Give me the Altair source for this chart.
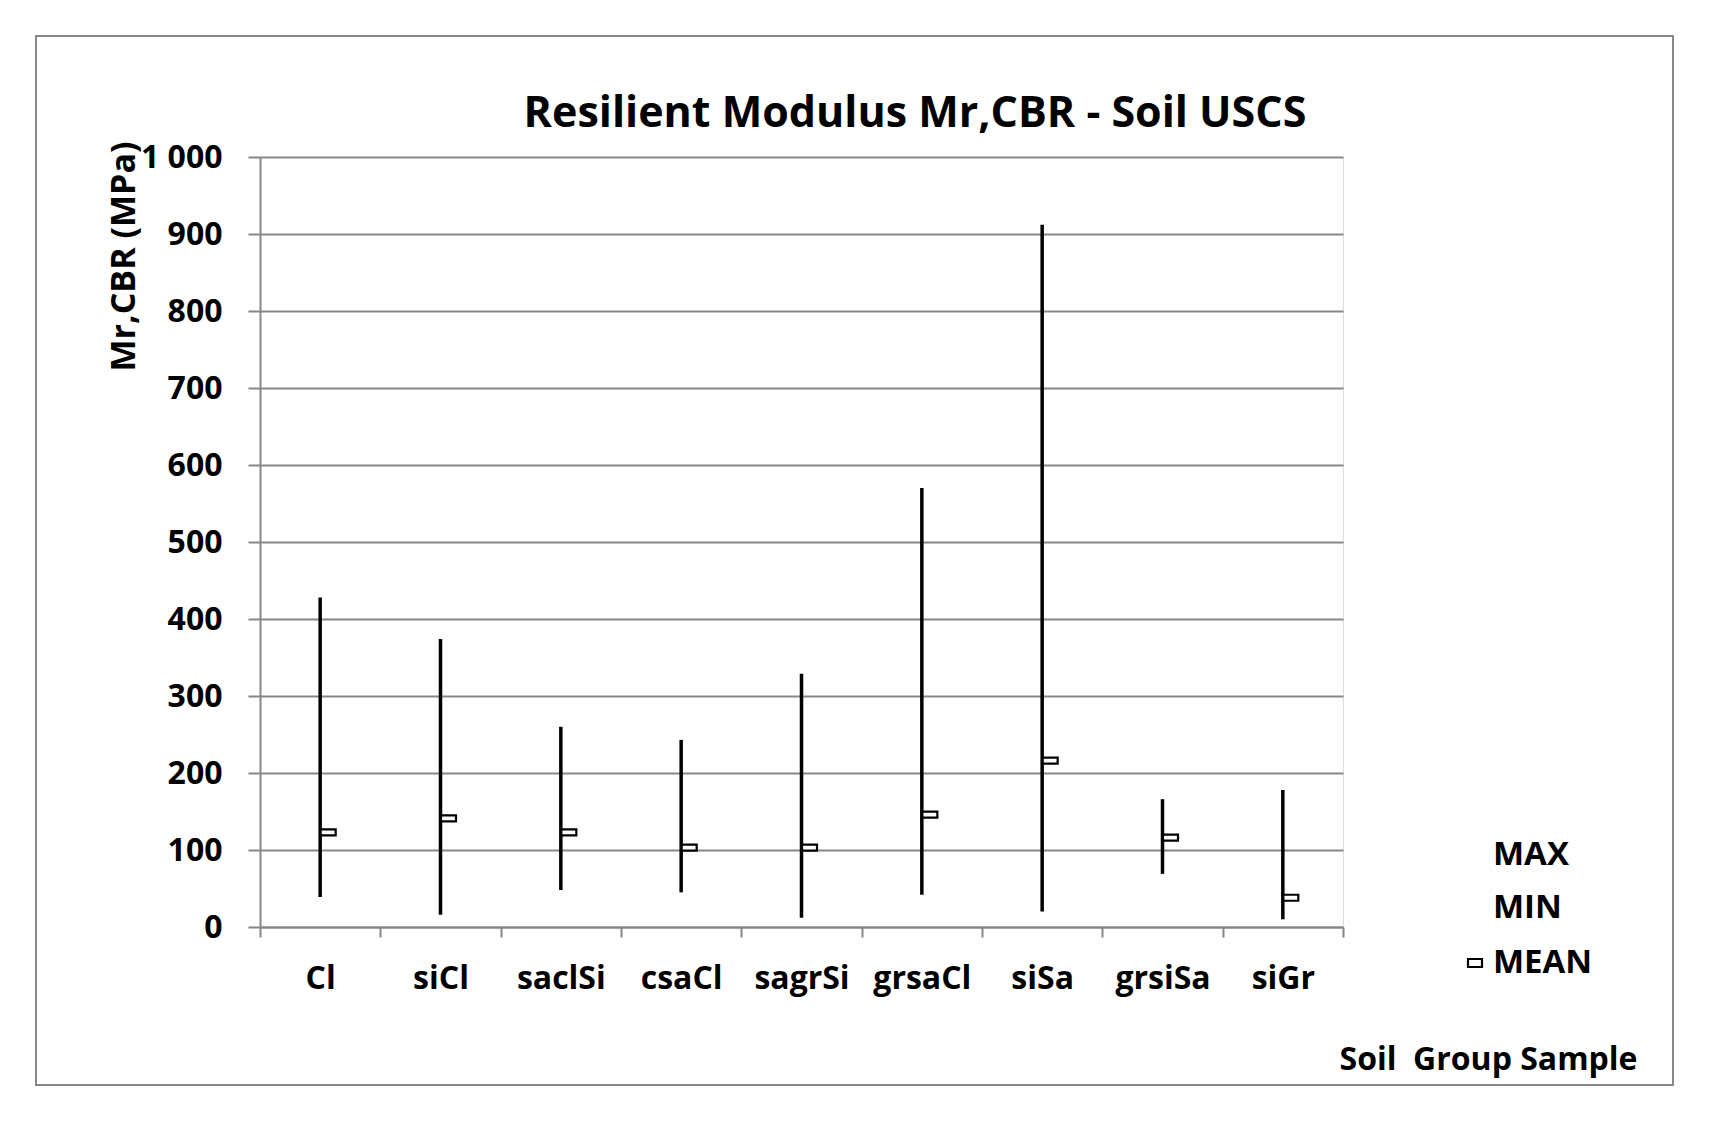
import altair as alt
import pandas as pd

categories = ["Cl", "siCl", "saclSi", "csaCl", "sagrSi", "grsaCl", "siSa", "grsiSa", "siGr"]
max_vals = [428, 374, 260, 243, 329, 570, 912, 166, 178]
min_vals = [39, 16, 48, 45, 12, 42, 20, 69, 10]
mean_vals = [123, 141, 123, 103, 103, 146, 216, 116, 38]
y_ticks = [0, 100, 200, 300, 400, 500, 600, 700, 800, 900, 1000]

title_text = "Resilient Modulus Mr,CBR - Soil USCS"
y_title = "Mr,CBR (MPa)"
x_title = "Soil\u00a0 Group Sample"
legend_labels = ["MAX", "MIN", "MEAN"]

FONT = "Open Sans"
GRAY = "#878787"
LBL = 32

df = pd.DataFrame({"cat": categories, "max": max_vals, "min": min_vals, "mean": mean_vals})

x_enc = alt.X(
    "cat:N",
    sort=categories,
    scale=alt.Scale(paddingInner=0, paddingOuter=0),
    axis=alt.Axis(
        title=x_title,
        titleX=1377, titleY=132, titleAlign="right", titleBaseline="middle",
        titleFont=FONT, titleFontSize=32, titleFontWeight="bold", titleColor="black",
        labelAngle=0, labelFont=FONT, labelFontSize=LBL, labelFontWeight="bold",
        labelColor="black", labelPadding=26,
        tickBand="extent", tickSize=10, tickWidth=2, tickColor=GRAY,
        domainColor=GRAY, domainWidth=2, grid=False,
    ),
)
y_enc = alt.Y(
    "min:Q",
    scale=alt.Scale(domain=[0, 1000], nice=False),
    axis=alt.Axis(
        values=y_ticks,
        labelExpr="datum.value == 1000 ? '1 000' : datum.label",
        title=y_title,
        titleAngle=-90, titleX=-136, titleY=99, titleAlign="center", titleBaseline="middle",
        titleFont=FONT, titleFontSize=34, titleFontWeight="bold", titleColor="black",
        labelFont=FONT, labelFontSize=LBL, labelFontWeight="bold", labelColor="black",
        labelPadding=26,
        tickSize=12, tickWidth=2, tickColor=GRAY,
        domainColor=GRAY, domainWidth=2,
        grid=True, gridColor=GRAY, gridWidth=2,
    ),
)

rules = alt.Chart(df).mark_rule(color="black", strokeWidth=3.5).encode(
    x=x_enc, y=y_enc, y2="max:Q"
)

means = alt.Chart(df).mark_tick(
    orient="horizontal", size=15, thickness=6, xOffset=8,
    fill="white", stroke="black", strokeWidth=2.2, opacity=1, fillOpacity=1,
).encode(
    x=alt.X("cat:N", sort=categories),
    y=alt.Y("mean:Q"),
)

frame = alt.Chart(pd.DataFrame({"a": [0]})).mark_rect(
    fill=None, stroke=GRAY, strokeWidth=2
).encode(x=alt.value(-224), x2=alt.value(1413), y=alt.value(-121), y2=alt.value(928))

title = alt.Chart(pd.DataFrame({"t": [title_text]})).mark_text(
    font=FONT, fontSize=43, fontWeight="bold", color="black", align="center", baseline="middle"
).encode(text="t:N", x=alt.value(655), y=alt.value(-43))

leg_y = [698, 751, 806]
legend_layers = []
for lab, yy in zip(legend_labels, leg_y):
    legend_layers.append(
        alt.Chart(pd.DataFrame({"t": [lab]})).mark_text(
            font=FONT, fontSize=33, fontWeight="bold", color="black", align="left", baseline="middle"
        ).encode(text="t:N", x=alt.value(1233), y=alt.value(yy))
    )

legend_marker = alt.Chart(pd.DataFrame({"a": [0]})).mark_rect(
    fill="white", stroke="black", strokeWidth=2.2
).encode(x=alt.value(1208), x2=alt.value(1222), y=alt.value(802), y2=alt.value(810))

chart = alt.layer(frame, rules, means, title, *legend_layers, legend_marker).properties(
    width=1083, height=770,
    autosize=alt.AutoSizeParams(type="none"),
    padding={"left": 252, "top": 149, "right": 340, "bottom": 180},
).configure_view(stroke=None).configure(background="white")

chart.save("out.html", embed_options={"renderer": "svg", "actions": False})
